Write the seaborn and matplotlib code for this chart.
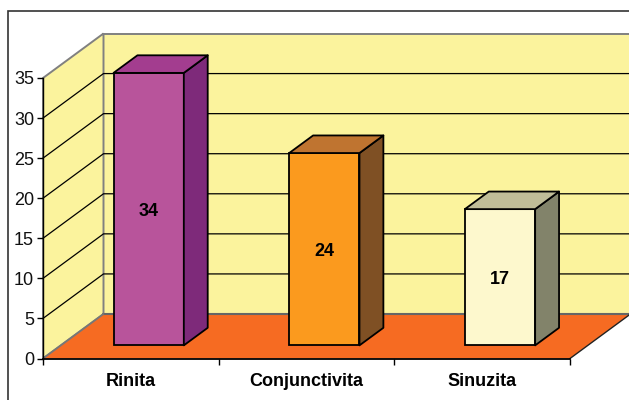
import matplotlib
matplotlib.use("Agg")
import matplotlib.pyplot as plt
import seaborn as sns
import pandas as pd
from matplotlib.patches import Polygon, Rectangle
from matplotlib.transforms import Affine2D, IdentityTransform

categories = ["Rinita", "Conjunctivita", "Sinuzita"]
values = [34, 24, 17]
front_colors = ["#B8549B", "#FB9A1E", "#FDF8CD"]
top_colors = ["#A33D8F", "#BF7430", "#C0BD98"]
side_colors = ["#7E2A7A", "#7F5024", "#82836A"]
y_ticks = [0, 5, 10, 15, 20, 25, 30, 35]
y_max = 35

W, H = 629, 400
sns.set_theme(style="white")
plt.rcParams["font.family"] = ["Liberation Sans", "DejaVu Sans"]

fig = plt.figure(figsize=(W / 100, H / 100), dpi=100, facecolor="white")
# pixel geometry of the front plane
L, R, B, T = 43.0, 570.0, 358.5, 78.0
ax = fig.add_axes([L / W, 1 - B / H, (R - L) / W, (B - T) / H])
ax.patch.set_alpha(0)

df = pd.DataFrame({"cat": categories, "val": values})
sns.barplot(data=df, x="cat", y="val", hue="cat", palette=front_colors, legend=False,
            width=0.4, ax=ax, saturation=1, edgecolor="black", linewidth=1.3, zorder=5)
ax.set_xlim(-0.5, 2.5)
ax.set_ylim(0, y_max)
fig.canvas.draw()

# Oblique projection: full depth in display pixels
DX, DY = 60.5, 44.5      # right, up (display px)


def proj(x, y, d):
    """data x/y at depth fraction d -> display pixels"""
    px, py = ax.transData.transform((x, y))
    return (px + DX * d, py + DY * d)


def poly(points, **kw):
    p = Polygon(points, closed=True, transform=IdentityTransform(), clip_on=False, **kw)
    fig.add_artist(p)
    return p


xa, xb = -0.5, 2.5
WALL = "#FBF39D"
GREY = "#808080"
# outer frame
fig.add_artist(Rectangle((7.5 / W, -0.02), 1.1, 1 - 11 / H + 0.02, transform=fig.transFigure,
                         fc="none", ec="#333333", lw=1.2, zorder=-5))
# back wall, side wall, floor
poly([proj(xa, 0, 1), proj(xb, 0, 1), proj(xb, y_max, 1), proj(xa, y_max, 1)],
     fc=WALL, ec=GREY, lw=1.4, zorder=-3)
poly([proj(xa, 0, 0), proj(xa, 0, 1), proj(xa, y_max, 1), proj(xa, y_max, 0)],
     fc=WALL, ec=GREY, lw=1.4, zorder=-3)
poly([proj(xa, 0, 0), proj(xb, 0, 0), proj(xb, 0, 1), proj(xa, 0, 1)],
     fc="#F66B22", ec="none", zorder=-2)
# gridlines
for v in y_ticks[1:-1]:
    fig.add_artist(plt.Line2D(*zip(proj(xa, v, 0), proj(xa, v, 1), proj(xb, v, 1)),
                              transform=IdentityTransform(), color="black", lw=0.9, zorder=-1))
# redraw floor edges
fig.add_artist(plt.Line2D(*zip(proj(xa, 0, 1), proj(xb, 0, 1)), transform=IdentityTransform(),
                          color="#666666", lw=1.5, zorder=-1))
fig.add_artist(plt.Line2D(*zip(proj(xa, 0, 0), proj(xa, 0, 1)), transform=IdentityTransform(),
                          color="#777777", lw=1.3, zorder=-1))
fig.add_artist(plt.Line2D(*zip(proj(xb, 0, 0), proj(xb, 0, 1)), transform=IdentityTransform(),
                          color="#222222", lw=1.0, zorder=-1))

# Bars: sit between depth d0 and d1
d0, d1 = 0.295, 0.69
shift = Affine2D().translate(DX * d0, DY * d0)
label_shift = Affine2D().translate(DX * d0, DY * d0 - 2.5)
for i, patch in enumerate(ax.patches):
    x0 = patch.get_x()
    x1 = x0 + patch.get_width()
    h = patch.get_height()
    patch.set_transform(ax.transData + shift)
    patch.set_clip_on(False)
    poly([proj(x1, 0, d0), proj(x1, 0, d1), proj(x1, h, d1), proj(x1, h, d0)],
         fc=side_colors[i], ec="black", lw=1.3, joinstyle="round", zorder=1)
    poly([proj(x0, h, d0), proj(x1, h, d0), proj(x1, h, d1), proj(x0, h, d1)],
         fc=top_colors[i], ec="black", lw=1.3, joinstyle="round", zorder=1)
    ax.text((x0 + x1) / 2, h / 2, str(values[i]), transform=ax.transData + label_shift,
            ha="center", va="center", fontsize=13, fontweight="bold", color="black", zorder=10)

# Axes styling
sns.despine(ax=ax, top=True, right=True)
ax.spines["left"].set_color("black")
ax.spines["bottom"].set_color("black")
ax.spines["left"].set_linewidth(1.0)
ax.spines["bottom"].set_linewidth(1.3)
ax.set_xlabel("")
ax.set_ylabel("")
ax.set_yticks(y_ticks)
ax.set_xticks([-0.5, 0.5, 1.5, 2.5])
ax.set_xticklabels([])
ax.tick_params(axis="both", which="major", length=4.5, width=1.0, color="black", left=True,
               bottom=True, pad=2)
ax.tick_params(axis="y", labelsize=13, labelcolor="#111111")
for i, c in enumerate(categories):
    ax.annotate(c, (i, 0), xycoords="data", xytext=(0, -23), textcoords="offset pixels",
                ha="center", va="center", fontsize=13, fontweight="bold", color="black")

fig.savefig("out.png", dpi=100, facecolor="white")
